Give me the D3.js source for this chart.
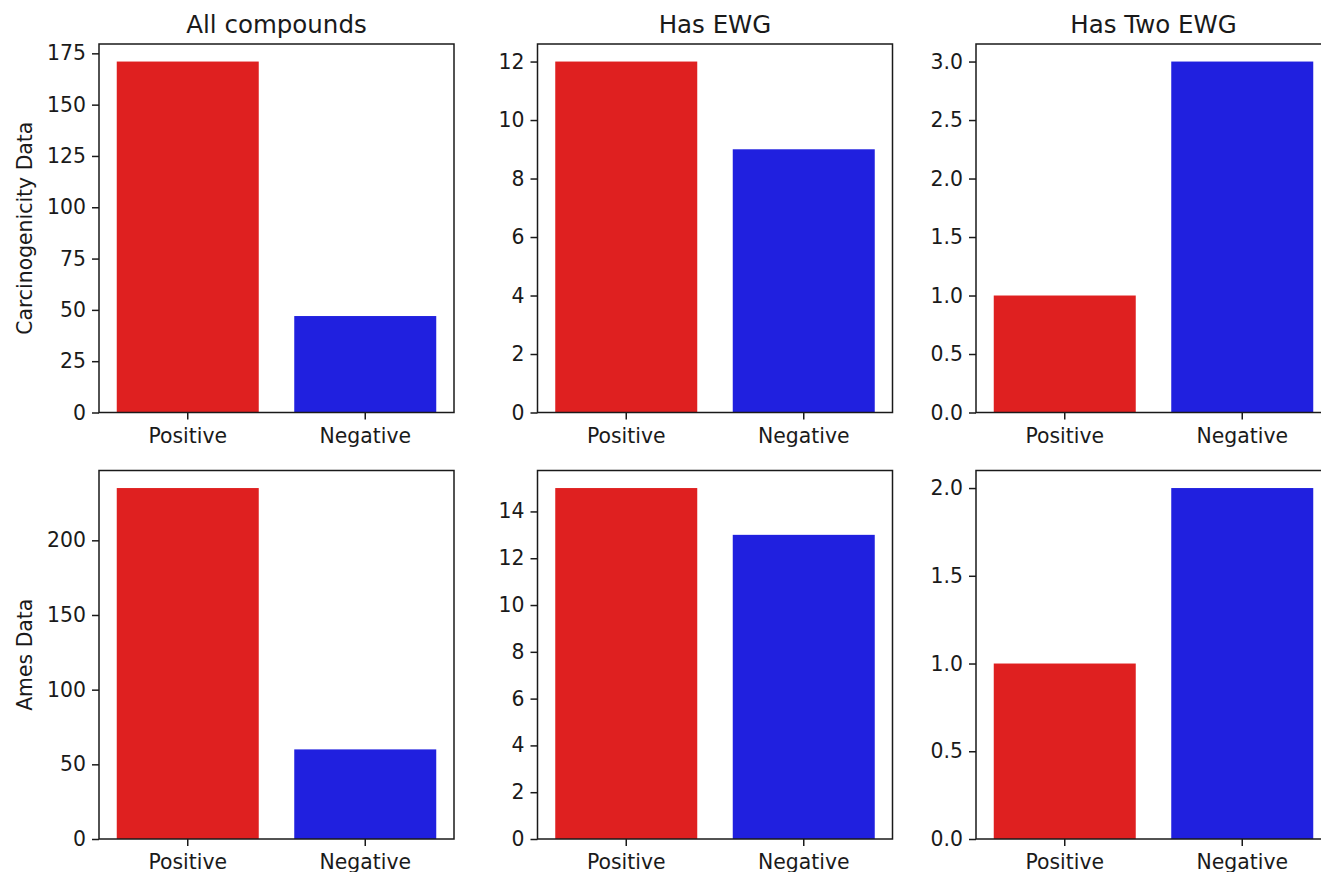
<!DOCTYPE html>
<html>
<head>
<meta charset="utf-8">
<script src="https://cdn.jsdelivr.net/npm/d3@7"></script>
<style>
  body { margin: 0; background: #fff; }
  text { font-family: "DejaVu Sans", sans-serif; fill: #1a1a1a; }
</style>
</head>
<body>
<div id="chart"></div>
<script>
// data
var categories = ["Positive", "Negative"];
var colTitles = ["All compounds", "Has EWG", "Has Two EWG"];
var rowLabels = ["Carcinogenicity Data", "Ames Data"];

var carcinogenicityCounts = [[171, 47], [12, 9], [1, 3]];
var amesCounts = [[235, 60], [15, 13], [1, 2]];

var carcinogenicityTicks = [
  [0, 25, 50, 75, 100, 125, 150, 175],
  [0, 2, 4, 6, 8, 10, 12],
  [0, 0.5, 1, 1.5, 2, 2.5, 3]
];
var amesTicks = [
  [0, 50, 100, 150, 200],
  [0, 2, 4, 6, 8, 10, 12, 14],
  [0, 0.5, 1, 1.5, 2]
];
var tickFormats = [d3.format("d"), d3.format("d"), d3.format(".1f")];

var barColors = ["#df2020", "#2020df"];

var svgWidth = 1321;
var svgHeight = 872;

var panelLefts = [99, 537.5, 976];
var panelTops = [44, 470.5];
var panelWidth = 355;
var panelHeight = 368.5;

var svg = d3.select("#chart")
  .append("svg")
  .attr("width", svgWidth)
  .attr("height", svgHeight);

var rows = [
  { label: rowLabels[0], counts: carcinogenicityCounts, ticks: carcinogenicityTicks },
  { label: rowLabels[1], counts: amesCounts, ticks: amesTicks }
];

rows.forEach(function(row, r) {
  row.counts.forEach(function(values, c) {
    var g = svg.append("g")
      .attr("transform", `translate(${panelLefts[c]}, ${panelTops[r]})`);

    var xScale = d3.scaleBand()
      .domain(categories)
      .range([0, panelWidth])
      .paddingInner(0.2)
      .paddingOuter(0.1);

    var yScale = d3.scaleLinear()
      .domain([0, d3.max(values) * 1.05])
      .range([panelHeight, 0]);

    g.selectAll("rect.bar")
      .data(values)
      .enter()
      .append("rect")
      .attr("class", "bar")
      .attr("x", (d, i) => xScale(categories[i]))
      .attr("y", d => yScale(d))
      .attr("width", xScale.bandwidth())
      .attr("height", d => panelHeight - yScale(d))
      .attr("fill", (d, i) => barColors[i]);

    var leftAxis = d3.axisLeft(yScale)
      .tickValues(row.ticks[c])
      .tickFormat(tickFormats[c])
      .tickSize(7)
      .tickPadding(6);

    var bottomAxis = d3.axisBottom(xScale)
      .tickSize(7)
      .tickPadding(9);

    var yAxis = g.append("g").call(leftAxis);
    var xAxis = g.append("g")
      .attr("transform", `translate(0, ${panelHeight})`)
      .call(bottomAxis);

    [yAxis, xAxis].forEach(function(ax) {
      ax.select(".domain").remove();
      ax.selectAll("line").attr("stroke", "#1a1a1a").attr("stroke-width", 1.5);
      ax.selectAll("text")
        .attr("font-size", "20.4px")
        .attr("font-family", "DejaVu Sans")
        .attr("fill", "#1a1a1a");
    });

    // axes frame
    g.append("rect")
      .attr("width", panelWidth)
      .attr("height", panelHeight)
      .attr("fill", "none")
      .attr("stroke", "#1a1a1a")
      .attr("stroke-width", 1.5);

    if (r === 0) {
      g.append("text")
        .attr("x", panelWidth / 2)
        .attr("y", -11)
        .attr("text-anchor", "middle")
        .attr("font-size", "24.5px")
        .text(colTitles[c]);
    }

    if (c === 0) {
      g.append("text")
        .attr("transform", `translate(${32 - panelLefts[c]}, ${panelHeight / 2}) rotate(-90)`)
        .attr("text-anchor", "middle")
        .attr("font-size", "20.4px")
        .text(row.label);
    }
  });
});
</script>
</body>
</html>
